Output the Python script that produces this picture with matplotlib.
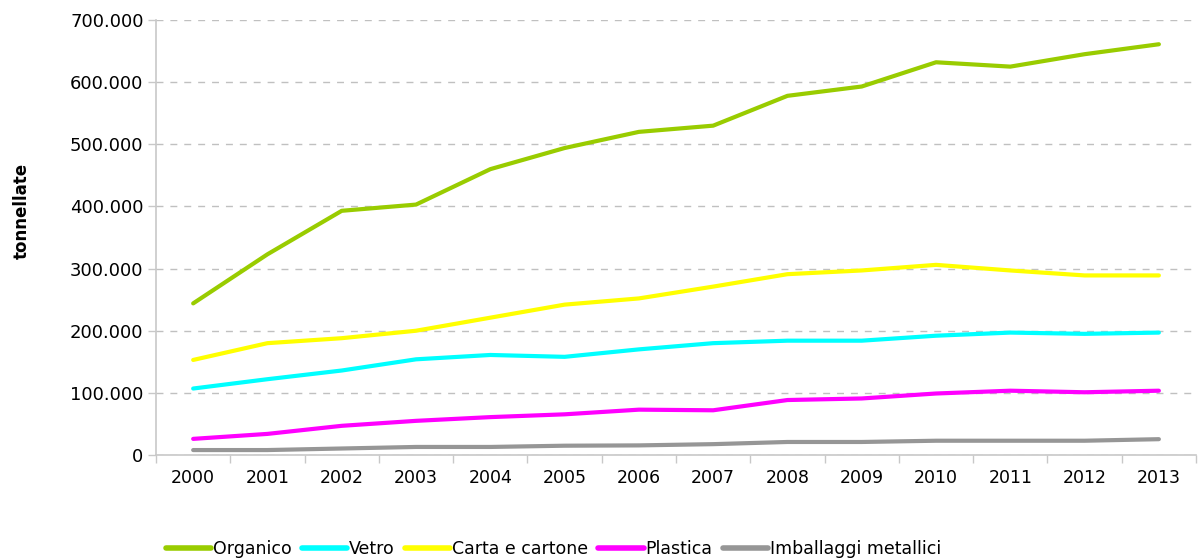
import matplotlib
matplotlib.use("Agg")
import matplotlib.pyplot as plt
from matplotlib.ticker import FuncFormatter, FixedLocator

years = ["2000", "2001", "2002", "2003", "2004", "2005", "2006",
         "2007", "2008", "2009", "2010", "2011", "2012", "2013"]
organico = [244000, 323000, 393000, 403000, 460000, 494000, 520000,
            530000, 578000, 593000, 632000, 625000, 645000, 661000]
vetro = [107000, 122000, 136000, 154000, 161000, 158000, 170000,
         180000, 184000, 184000, 192000, 197000, 195000, 197000]
carta = [153000, 180000, 188000, 200000, 221000, 242000, 252000,
         271000, 291000, 297000, 306000, 297000, 289000, 289000]
plastica = [26000, 34000, 47000, 55000, 61000, 65500, 73000,
            72000, 88500, 91000, 99000, 103500, 101000, 103500]
imballaggi = [8000, 8000, 10500, 13000, 13000, 15000, 15500,
              17500, 21000, 21000, 23000, 23000, 23000, 25500]

series = [
    ("Organico", organico, "#99CC00"),
    ("Vetro", vetro, "#00FFFF"),
    ("Carta e cartone", carta, "#FFFF00"),
    ("Plastica", plastica, "#FF00FF"),
    ("Imballaggi metallici", imballaggi, "#969696"),
]

plt.rcParams['font.family'] = ['DejaVu Sans']
fig = plt.figure(figsize=(12.03, 5.59), dpi=100)
ax = fig.add_axes([0.1297, 0.186, 0.8645, 0.7782])

x = list(range(len(years)))
for name, vals, col in series:
    ax.plot(x, vals, color=col, lw=3.0, label=name, solid_capstyle='round',
            solid_joinstyle='round', zorder=3)

ax.set_xlim(-0.5, len(years) - 0.5)
ax.set_ylim(0, 700000)
ax.set_yticks(range(0, 700001, 100000))
ax.yaxis.set_major_formatter(FuncFormatter(
    lambda v, p: "0" if v == 0 else f"{int(v):,}".replace(",", ".")))

ax.xaxis.set_major_locator(FixedLocator([i - 0.5 for i in range(len(years) + 1)]))
ax.xaxis.set_minor_locator(FixedLocator(x))
ax.set_xticklabels([], minor=False)
ax.set_xticklabels(years, minor=True)
ax.tick_params(axis='x', which='minor', length=0, pad=10, labelsize=12.5)
ax.tick_params(axis='x', which='major', length=6, color='#C8C8C8', width=1)
ax.tick_params(axis='y', length=6, color='#C8C8C8', width=1, labelsize=13, pad=3)

ax.grid(axis='y', linestyle=(0, (5, 5)), color='#C0C0C0', lw=1, zorder=0)
for s in ['top', 'right']:
    ax.spines[s].set_visible(False)
for s in ['left', 'bottom']:
    ax.spines[s].set_color('#C8C8C8')
    ax.spines[s].set_linewidth(1.2)

ax.set_ylabel("tonnellate", fontsize=12, fontweight='bold')
ax.yaxis.set_label_coords(-0.12, 0.56)

leg = fig.legend(loc='lower center', bbox_to_anchor=(0.46, -0.027), ncol=5,
                 frameon=False, fontsize=12.5, handlelength=2.6,
                 handletextpad=0.1, columnspacing=0.6)
for h in leg.legend_handles:
    h.set_linewidth(4)

fig.savefig("out.png", dpi=100)
